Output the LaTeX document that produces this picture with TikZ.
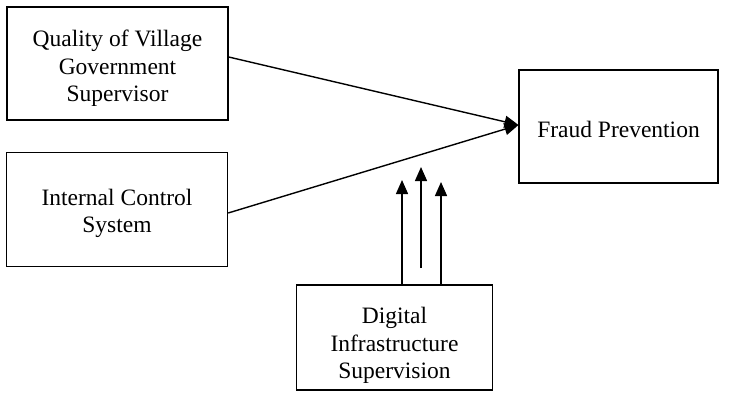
\documentclass[tikz,border=0pt]{standalone}
\usepackage{fontspec}
\setmainfont{Liberation Serif}
\usetikzlibrary{arrows.meta}
\begin{document}
\begin{tikzpicture}[x=1pt,y=-1pt,
  box/.style={draw,line width=1.4pt,inner sep=0pt},
  lbl/.style={align=center,inner sep=0pt,font=\fontsize{23.5}{27.5}\selectfont},
  arr/.style={line width=1.4pt,-{Triangle[length=14pt,width=12pt]}}]
\useasboundingbox (0,0) rectangle (730,396);
\node[box,minimum width=221pt,minimum height=113pt] (q) at (117.5,63.5) {};
\node[box,minimum width=221pt,minimum height=114pt] (ic) at (117,209.5) {};
\node[box,minimum width=199pt,minimum height=113pt] (fp) at (618.5,126.5) {};
\node[box,minimum width=196pt,minimum height=105pt] (di) at (394.5,337.5) {};
\node[lbl] (qt) at ([yshift=-5pt]q.center) {Quality of Village\\Government\\Supervisor};
\node[lbl] (ict) at ([yshift=-4pt]ic.center) {Internal Control\\System};
\node[lbl] (fpt) at ([yshift=-3pt]fp.center) {Fraud Prevention};
\node[lbl] (dit) at ([yshift=-8pt]di.center) {Digital\\Infrastructure\\Supervision};
\coordinate (tip) at (518.5,125);
\draw[arr] (q.east |- 0,57) -- (tip);
\draw[arr] (ic.east |- 0,213) -- (tip);
\coordinate (a1) at (402,180);
\coordinate (a2) at (421,167);
\coordinate (a3) at (441,182);
\draw[arr] (di.north -| a1) -- (a1);
\draw[arr] (421,268) -- (a2);
\draw[arr] (di.north -| a3) -- (a3);
\end{tikzpicture}
\end{document}
